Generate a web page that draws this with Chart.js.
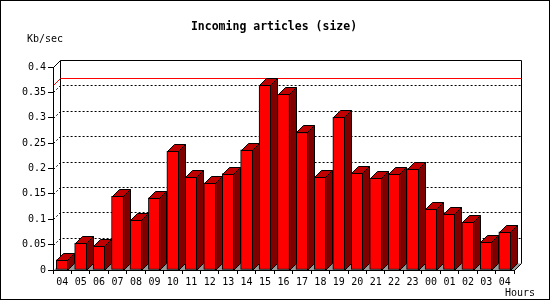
<!DOCTYPE html>
<html>
<head>
<meta charset="utf-8">
<script src="https://cdn.jsdelivr.net/npm/chart.js@4/dist/chart.umd.min.js"></script>
<style>
html,body{margin:0;padding:0;background:#fff;}
canvas{display:block;}
</style>
</head>
<body>
<canvas id="c" width="550" height="300"></canvas>
<script>
const TITLE = 'Incoming articles (size)';
const Y_UNIT = 'Kb/sec';
const X_UNIT = 'Hours';
const hours = ['04','05','06','07','08','09','10','11','12','13','14','15','16','17','18','19','20','21','22','23','00','01','02','03','04'];
const sizeKbps = [0.020,0.053,0.047,0.145,0.098,0.142,0.234,0.183,0.172,0.190,0.237,0.364,0.346,0.271,0.183,0.301,0.192,0.181,0.189,0.200,0.120,0.110,0.094,0.055,0.075];
const yMin = 0, yMax = 0.4, yStep = 0.05;

const DEPTH = 7;
const MONO = '"DejaVu Sans Mono", "Liberation Mono", monospace';

const frame3d = {
  id: 'frame3d',
  beforeDraw(chart) {
    const {ctx, chartArea: a, scales: {y}} = chart;
    const d = DEPTH;
    const L = Math.round(a.left) + 0.5, R = Math.round(a.right) + 0.5;
    const T = Math.round(a.top) + 0.5, B = Math.round(a.bottom) + 0.5;
    ctx.save();
    ctx.fillStyle = '#fff';
    ctx.fillRect(0, 0, chart.width, chart.height);
    // floor
    ctx.fillStyle = '#999999';
    ctx.beginPath();
    ctx.moveTo(L, B); ctx.lineTo(R, B); ctx.lineTo(R + d, B - d); ctx.lineTo(L + d, B - d);
    ctx.closePath(); ctx.fill();
    // dotted grid on side + back wall
    ctx.strokeStyle = '#000';
    ctx.lineWidth = 1;
    ctx.setLineDash([2, 2]);
    y.ticks.forEach(t => {
      if (t.value <= yMin + 1e-9 || t.value >= yMax - 1e-9) return;
      const py = Math.round(y.getPixelForValue(t.value)) + 0.5;
      ctx.beginPath();
      ctx.moveTo(L, py); ctx.lineTo(L + d, py - d); ctx.lineTo(R + d, py - d);
      ctx.stroke();
    });
    ctx.setLineDash([]);
    // back wall frame
    ctx.beginPath();
    ctx.moveTo(L, T); ctx.lineTo(L + d, T - d); ctx.lineTo(R + d, T - d); ctx.lineTo(R + d, B - d); ctx.lineTo(R, B);
    ctx.moveTo(L + d, T - d); ctx.lineTo(L + d, B - d);
    ctx.stroke();
    // max line
    const maxV = Math.max(...sizeKbps);
    const my = Math.round(y.getPixelForValue(maxV)) + 0.5;
    ctx.strokeStyle = '#ff0000';
    ctx.beginPath();
    ctx.moveTo(L, my); ctx.lineTo(L + d, my - d); ctx.lineTo(R + d, my - d);
    ctx.stroke();
    ctx.restore();
  },
  afterDatasetsDraw(chart) {
    const {ctx} = chart;
    const d = DEPTH;
    const meta = chart.getDatasetMeta(0);
    ctx.save();
    ctx.lineWidth = 1;
    ctx.strokeStyle = '#000';
    meta.data.forEach(el => {
      const xl = Math.round(el.x - el.width / 2) + 0.5;
      const xr = Math.round(el.x + el.width / 2) - 0.5;
      const yt = Math.round(el.y) + 0.5;
      const yb = Math.round(el.base) + 0.5;
      // side
      ctx.fillStyle = '#800000';
      ctx.beginPath();
      ctx.moveTo(xr, yt); ctx.lineTo(xr + d, yt - d); ctx.lineTo(xr + d, yb - d); ctx.lineTo(xr, yb);
      ctx.closePath(); ctx.fill(); ctx.stroke();
      // top
      ctx.fillStyle = '#c00000';
      ctx.beginPath();
      ctx.moveTo(xl, yt); ctx.lineTo(xl + d, yt - d); ctx.lineTo(xr + d, yt - d); ctx.lineTo(xr, yt);
      ctx.closePath(); ctx.fill(); ctx.stroke();
    });
    ctx.restore();
  },
  afterDraw(chart) {
    const {ctx} = chart;
    ctx.save();
    ctx.fillStyle = '#000';
    ctx.textBaseline = 'alphabetic';
    ctx.font = 'bold 11.5px ' + MONO;
    ctx.textAlign = 'center';
    ctx.fillText(TITLE, 274, 30);
    ctx.font = '10px ' + MONO;
    ctx.textAlign = 'left';
    ctx.fillText(Y_UNIT, 27, 42);
    ctx.textAlign = 'right';
    ctx.fillText(X_UNIT, 535, 296);
    ctx.strokeStyle = '#000';
    ctx.lineWidth = 1;
    ctx.strokeRect(0.5, 0.5, chart.width - 1, chart.height - 1);
    ctx.restore();
  }
};

new Chart(document.getElementById('c'), {
  type: 'bar',
  data: {
    labels: hours,
    datasets: [{
      data: sizeKbps,
      backgroundColor: '#ff0000',
      borderColor: '#000',
      borderWidth: 1,
      borderSkipped: false,
      barThickness: 12
    }]
  },
  options: {
    responsive: false,
    devicePixelRatio: 1,
    animation: false,
    layout: {padding: {top: 67, right: 36, left: 0, bottom: 0}},
    plugins: {legend: {display: false}, tooltip: {enabled: false}, title: {display: false}},
    scales: {
      x: {
        afterFit: s => { s.height = 30; },
        grid: {display: true, drawOnChartArea: false, drawTicks: true, tickLength: 4, color: '#000', offset: true},
        border: {display: true, color: '#000'},
        ticks: {color: '#000', font: {family: MONO, size: 10}, autoSkip: false, maxRotation: 0, padding: 2}
      },
      y: {
        min: yMin, max: yMax,
        afterFit: s => { s.width = 53; },
        grid: {display: true, drawOnChartArea: false, drawTicks: true, tickLength: 5, color: '#000'},
        border: {display: true, color: '#000'},
        ticks: {stepSize: yStep, color: '#000', font: {family: MONO, size: 10}, padding: 2,
          callback: v => String(+Number(v).toFixed(2))}
      }
    }
  },
  plugins: [frame3d]
});
</script>
</body>
</html>
